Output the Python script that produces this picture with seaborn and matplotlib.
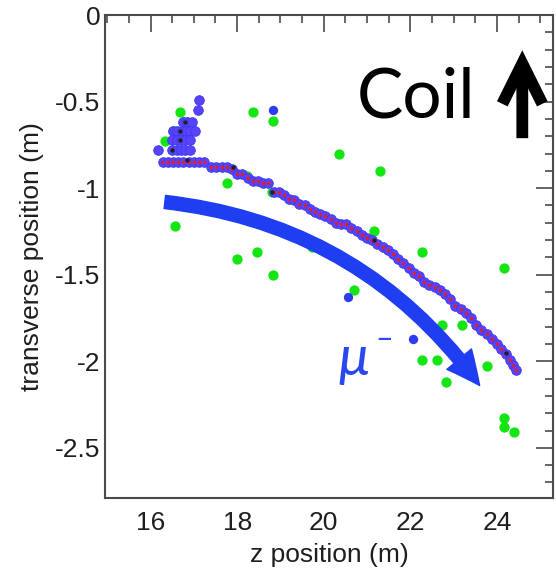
import numpy as np
import pandas as pd
import matplotlib
matplotlib.use("Agg")
import matplotlib.pyplot as plt
import seaborn as sns
from matplotlib.ticker import MultipleLocator

# --- track hits (blue), hook part then main curve ---
track_z = [17.12, 17.10, 16.75, 16.85, 16.95, 16.52, 16.62, 16.72, 16.82, 16.92, 17.02,
           16.50, 16.60, 16.70, 16.80, 16.90, 16.17, 16.50, 16.60, 16.70, 16.80, 16.90,
           16.28, 16.40, 16.52, 16.64, 16.76, 16.88, 17.00, 17.12, 17.24,
           17.40, 17.52, 17.64, 17.76, 17.88, 18.00, 18.12, 18.24, 18.36, 18.48, 18.60, 18.72,
           18.84, 18.96, 19.08, 19.20, 19.32, 19.44, 19.56, 19.68, 19.80, 19.92, 20.04, 20.16,
           20.28, 20.40, 20.52, 20.64, 20.76, 20.88, 21.00, 21.12, 21.24, 21.36, 21.48, 21.60,
           21.72, 21.84, 21.96, 22.08, 22.20, 22.32, 22.44, 22.56, 22.68, 22.80, 22.92, 23.04,
           23.16, 23.28, 23.40, 23.52, 23.64, 23.76, 23.88, 24.00, 24.10, 24.20, 24.30, 24.38, 24.44]
track_t = [-0.49, -0.55, -0.62, -0.62, -0.62, -0.67, -0.67, -0.67, -0.67, -0.67, -0.67,
           -0.72, -0.72, -0.72, -0.72, -0.72, -0.78, -0.78, -0.78, -0.78, -0.78, -0.78,
           -0.85, -0.85, -0.85, -0.85, -0.85, -0.85, -0.85, -0.85, -0.85,
           -0.88, -0.88, -0.88, -0.88, -0.89, -0.92, -0.92, -0.94, -0.96, -0.96, -0.97, -0.97,
           -1.02, -1.02, -1.04, -1.06, -1.07, -1.09, -1.10, -1.12, -1.14, -1.15, -1.16, -1.18,
           -1.20, -1.21, -1.21, -1.23, -1.25, -1.27, -1.29, -1.30, -1.32, -1.34, -1.36, -1.38,
           -1.41, -1.43, -1.46, -1.49, -1.51, -1.54, -1.56, -1.57, -1.59, -1.61, -1.64, -1.68,
           -1.70, -1.72, -1.75, -1.79, -1.82, -1.84, -1.87, -1.90, -1.93, -1.96, -1.99, -2.02, -2.05]
hook_count = 22  # first entries are the hook, red fit markers only on the rest

# --- stray hits (green) ---
green_z = [16.67, 16.74, 16.84, 16.51, 16.33, 18.36, 18.82, 20.36, 21.31, 17.76, 18.22,
           18.80, 16.56, 17.99, 18.45, 18.82, 21.17, 22.26, 24.17, 20.71, 19.74, 22.72,
           23.20, 22.26, 22.62, 22.83, 23.78, 24.17, 24.17, 24.40]
green_t = [-0.56, -0.62, -0.62, -0.67, -0.73, -0.56, -0.61, -0.80, -0.90, -0.97, -0.93,
           -1.02, -1.22, -1.41, -1.37, -1.50, -1.25, -1.37, -1.46, -1.59, -1.34, -1.79,
           -1.79, -1.99, -1.99, -2.12, -2.03, -2.33, -2.38, -2.41]

# --- isolated blue hits ---
stray_z = [18.82, 20.57, 22.05]
stray_t = [-0.55, -1.63, -1.87]

# --- black marks ---
black_z = [16.79, 16.68, 16.68, 16.49, 16.84, 17.90, 18.80, 21.17, 24.22]
black_t = [-0.62, -0.67, -0.72, -0.78, -0.84, -0.88, -1.02, -1.30, -1.95]

track = pd.DataFrame({"z": track_z, "t": track_t})
fit = track.iloc[hook_count:]
green = pd.DataFrame({"z": green_z, "t": green_t})
stray = pd.DataFrame({"z": stray_z, "t": stray_t})
black = pd.DataFrame({"z": black_z, "t": black_t})

sns.set_theme(style="white")
plt.rcParams["font.family"] = ["Liberation Sans", "DejaVu Sans"]

fig = plt.figure(figsize=(5.56, 5.82), dpi=100)
ax = fig.add_axes([0.189, 0.1443, 0.806, 0.8299])

sns.scatterplot(data=green, x="z", y="t", color="#14e614", s=55, linewidth=0, ax=ax, zorder=2)
sns.scatterplot(data=stray, x="z", y="t", color="#2d3cf0", s=45, linewidth=0, ax=ax, zorder=2)
sns.scatterplot(data=track, x="z", y="t", color="#5a42fa", s=48, linewidth=0.6,
                edgecolor="#3a3af0", ax=ax, zorder=3)
sns.scatterplot(data=fit, x="z", y="t", color="#e81e1e", s=6, linewidth=0, ax=ax, zorder=4)
sns.scatterplot(data=black, x="z", y="t", color="#202020", s=10, linewidth=0, ax=ax, zorder=5)

# muon direction arrow
ax.annotate("", xy=(23.60, -2.14), xytext=(16.33, -1.08),
            arrowprops=dict(arrowstyle="simple,head_length=2.4,head_width=2.3,tail_width=0.95",
                            connectionstyle="arc3,rad=-0.22", color="#1f3ef2",
                            shrinkA=0, shrinkB=0, mutation_scale=10),
            zorder=6)
ax.text(20.70, -2.08, "\u03bc", color="#2a48f0", fontsize=40, family="Lato",
        style="italic", ha="center", va="baseline", zorder=6)
ax.text(21.40, -1.87, "\u2013", color="#2a48f0", fontsize=22, family="Lato",
        ha="center", va="center", zorder=6)

# coil label with arrow
ax.text(0.562, 0.787, "Coil", transform=ax.transAxes, fontsize=50, family="Lato",
        color="black", ha="left", va="baseline")
ax.annotate("", xy=(0.931, 0.927), xytext=(0.931, 0.745), xycoords="axes fraction",
            textcoords="axes fraction",
            arrowprops=dict(arrowstyle="->,head_length=1.45,head_width=0.72",
                            color="black", lw=8.5, shrinkA=0, shrinkB=0,
                            mutation_scale=20, joinstyle="miter", capstyle="butt"))

ax.set_xlim(14.95, 25.30)
ax.set_ylim(-2.79, 0)
ax.xaxis.set_major_locator(MultipleLocator(2))
ax.xaxis.set_minor_locator(MultipleLocator(0.5))
ax.yaxis.set_major_locator(MultipleLocator(0.5))
ax.yaxis.set_minor_locator(MultipleLocator(0.1))
ax.set_yticks([0, -0.5, -1, -1.5, -2, -2.5])
ax.set_yticklabels(["0", "-0.5", "-1", "-1.5", "-2", "-2.5"])

ax.tick_params(which="both", direction="in", top=True, right=True, colors="#4a4a4a",
               labelcolor="#1e1e1e", labelsize=19, width=1.2)
ax.tick_params(axis="x", pad=9)
ax.tick_params(which="major", length=12)
ax.tick_params(which="minor", length=6)
for sp in ax.spines.values():
    sp.set_color("#4a4a4a")
    sp.set_linewidth(1.5)

ax.set_xlabel("z position (m)", fontsize=19, color="#1e1e1e", labelpad=6)
ax.set_ylabel("transverse position (m)", fontsize=19, color="#1e1e1e", labelpad=8)

fig.savefig("out.png", dpi=100)
